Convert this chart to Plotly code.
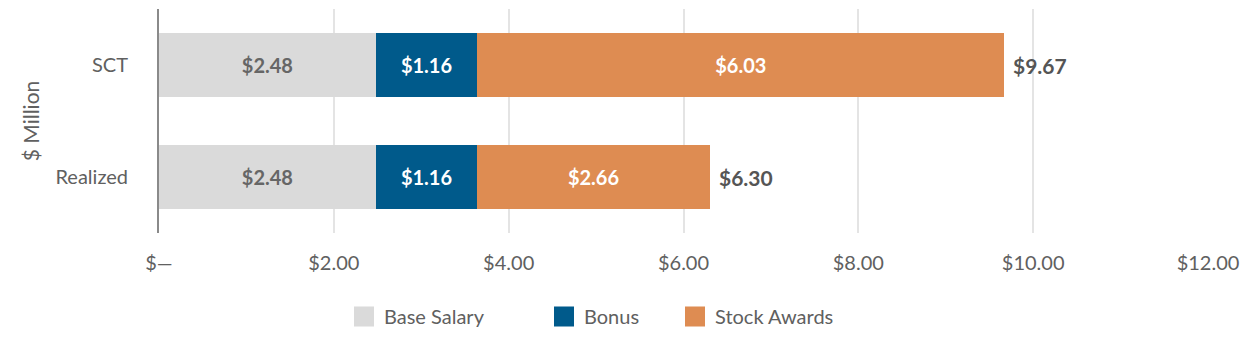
import plotly.graph_objects as go

categories = ["Realized", "SCT"]
base_salary = [2.48, 2.48]
bonus = [1.16, 1.16]
stock_awards = [2.66, 6.03]
totals = [6.30, 9.67]
tick_vals = [0, 2, 4, 6, 8, 10, 12]
tick_text = ["$—", "$2.00", "$4.00", "$6.00", "$8.00", "$10.00", "$12.00"]
series_names = ["Base Salary", "Bonus", "Stock Awards"]

FONT = "Lato"
GREY_TXT = "#606060"
colors = ["#dadada", "#005a8b", "#de8c52"]
text_colors = ["#666666", "#ffffff", "#ffffff"]
values = [base_salary, bonus, stock_awards]
legend_ids = ["legend", "legend2", "legend3"]
legend_left_px = [344, 544, 675]

fig = go.Figure()
for name, vals, color, tcolor in zip(series_names, values, colors, text_colors):
    fig.add_trace(go.Bar(
        y=categories, x=vals, name=name, orientation="h",
        marker=dict(color=color, line=dict(width=0)),
        texttemplate="<b>$%{x:.2f}</b>", textposition="inside",
        insidetextanchor="middle", constraintext="none",
        textfont=dict(family=FONT, size=20, color=tcolor),
        hoverinfo="skip", showlegend=False, legendgroup=name,
    ))

# legend entries (larger square swatches)
for name, color, lid in zip(series_names, colors, legend_ids):
    fig.add_trace(go.Scatter(
        x=[None], y=[None], mode="markers", name=name, legendgroup=name,
        legend=lid,
        marker=dict(symbol="square", size=16, color=color,
                    line=dict(color=color, width=4)),
        showlegend=True, hoverinfo="skip",
    ))

for cat, tot in zip(categories, totals):
    fig.add_annotation(
        x=tot, y=cat, xref="x", yref="y", text="<b>$%.2f</b>" % tot,
        showarrow=False, xanchor="left", yanchor="middle", xshift=7,
        font=dict(family=FONT, size=21, color="#555555"),
    )

fig.add_annotation(
    xref="paper", yref="paper", x=-(159 - 30) / 1051, y=0.5,
    text="$ Million", textangle=-90, showarrow=False,
    xanchor="center", yanchor="middle",
    font=dict(family=FONT, size=21, color=GREY_TXT),
)

legend_common = dict(
    orientation="h", xref="container", yref="container",
    xanchor="left", y=0.08, yanchor="middle",
    font=dict(family=FONT, size=20, color=GREY_TXT),
    itemwidth=30, bgcolor="rgba(0,0,0,0)",
)

fig.update_layout(
    barmode="stack",
    bargap=0.43,
    width=1248, height=344,
    margin=dict(l=159, r=38, t=9, b=111),
    plot_bgcolor="white", paper_bgcolor="white",
    font=dict(family=FONT, size=20, color=GREY_TXT),
    xaxis=dict(
        range=[0, 12], tickvals=tick_vals, ticktext=tick_text,
        showgrid=True, gridcolor="#e4e4e4", gridwidth=1.5,
        zeroline=False, showline=False, ticks="",
        ticklabelstandoff=16,
        tickfont=dict(family=FONT, size=20, color=GREY_TXT),
    ),
    yaxis=dict(
        showline=True, linecolor="#8a8a8a", linewidth=2,
        showgrid=False, zeroline=False, ticks="",
        ticklabelstandoff=25,
        tickfont=dict(family=FONT, size=20, color=GREY_TXT),
    ),
    legend=dict(x=legend_left_px[0] / 1248, **legend_common),
    legend2=dict(x=legend_left_px[1] / 1248, **legend_common),
    legend3=dict(x=legend_left_px[2] / 1248, **legend_common),
)

fig.write_html("out.html")
